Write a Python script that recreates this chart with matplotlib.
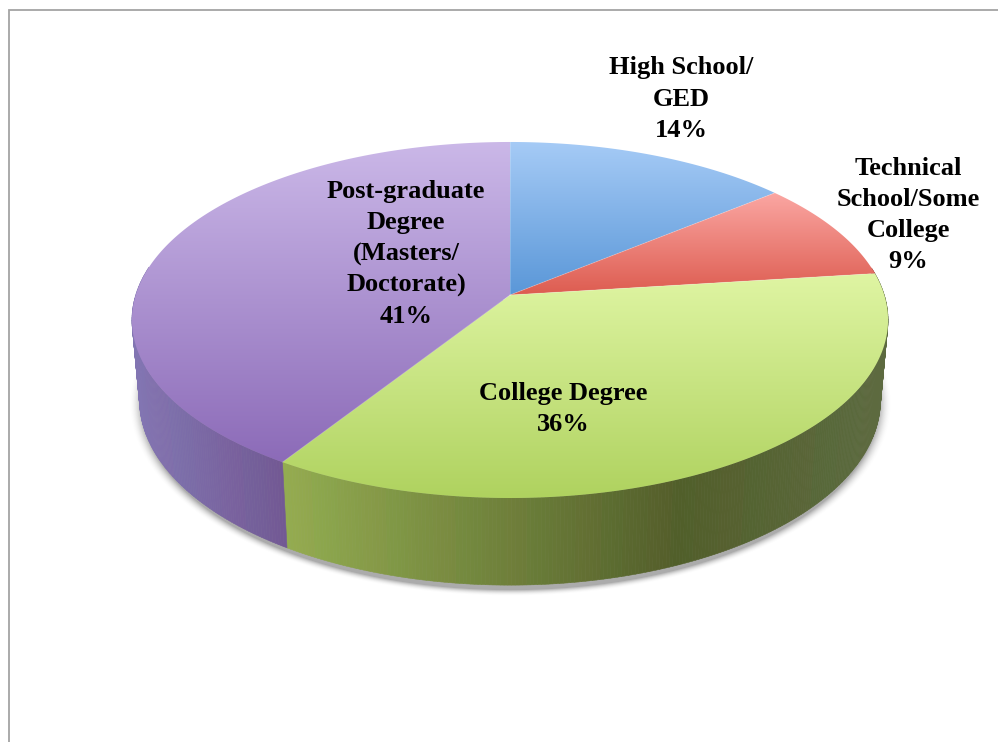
import numpy as np
import matplotlib
matplotlib.use("Agg")
import matplotlib.pyplot as plt
from matplotlib.collections import PolyCollection
from matplotlib.patches import Polygon
from matplotlib.colors import LinearSegmentedColormap

# chart data
categories = ["High School/\nGED", "Technical\nSchool/Some\nCollege", "College Degree",
              "Post-graduate\nDegree\n(Masters/\nDoctorate)"]
values = [14, 9, 36, 41]

# top face gradients (far colour, near colour) and wall gradients
top_colors = [("#a6cbf6", "#5a97d8"), ("#fba7a3", "#dd5c50"), ("#dff5a3", "#afd25f"), ("#cbb8e8", "#8c6bb8")]
wall_colors = [("#3f6f9f", "#3f6f9f"), ("#9a3f38", "#9a3f38"), ("#93ac50", "#525e2a"), ("#8275b2", "#725893")]
label_pos = [(681, 99), (908, 215), (563, 409), (406, 254)]

# pie geometry in pixels
CX, CY = 510, 295
A, B, K = 374.3, 174.5, 0.1404
DEPTH = 79


def project(theta, sx=1.0, sy=1.0, dy=0.0):
    """Clockwise angle from 12 o'clock on the unit disc -> perspective pixel position."""
    u, v = np.sin(theta), np.cos(theta)
    w = 1 + K * v
    return CX + sx * A * u / w, CY - sy * B * v / w + dy


def bottom_rim(theta):
    return project(theta, sx=0.98, sy=1.04, dy=DEPTH)


fig = plt.figure(figsize=(9.98, 7.42), dpi=100)
ax = fig.add_axes([0, 0, 1, 1])
ax.set_xlim(0, 998)
ax.set_ylim(742, 0)
ax.axis("off")

# page frame
ax.plot([9.5, 9.5, 998], [742, 9.5, 9.5], color="#a4a4a4", lw=1.3, solid_joinstyle="miter", zorder=1)

# soft shadow under the pie
gx, gy = np.meshgrid(np.arange(100, 920), np.arange(300, 620))
r = np.sqrt(((gx - 510) / 374.0) ** 2 + ((gy - 403) / 189.0) ** 2)
shadow = np.zeros(r.shape + (4,))
shadow[..., :3] = 0.4
shadow[..., 3] = np.clip((1.02 - r) / 0.035, 0, 1) ** 2 * 0.55
ax.imshow(shadow, extent=[100, 920, 620, 300], zorder=2, aspect="auto", interpolation="bilinear")
ax.set_xlim(0, 998)
ax.set_ylim(742, 0)

edges = np.concatenate([[0], np.cumsum(values)]) / sum(values) * 2 * np.pi
band_shift = np.array([[0.006, -0.003, 0.0], [-0.005, 0.004, 0.0], [0.0, 0.0, 0.0]])

# side wall, drawn as narrow vertical facets
polys, cols = [], []
for i in range(len(values)):
    c0 = np.array(matplotlib.colors.to_rgb(wall_colors[i][0]))
    c1 = np.array(matplotlib.colors.to_rgb(wall_colors[i][1]))
    th = np.arange(edges[i], edges[i + 1] + 1e-6, np.radians(0.5))
    th = np.append(th, edges[i + 1])
    for a, b in zip(th[:-1], th[1:]):
        mid = (a + b) / 2
        if np.cos(mid) > 0.16:
            continue
        xt0, yt0 = project(a)
        xt1, yt1 = project(b)
        xb0, yb0 = bottom_rim(a)
        xb1, yb1 = bottom_rim(b)
        polys.append([(xt0, yt0), (xt1, yt1), (xb1, yb1), (xb0, yb0)])
        xm = project(mid)[0]
        if i == 2:
            # green wall darkens towards x=680, then lifts slightly at the right end
            f = np.clip((xm - 285) / 395, 0, 1)
            col = c0 + (c1 - c0) * f
            if xm > 680:
                col = c1 + (np.array([0.36, 0.42, 0.25]) - c1) * (xm - 680) / 205
        else:
            f = np.clip((xm - 135) / 150, 0, 1)
            col = c0 + (c1 - c0) * f
        # slight facet banding
        col = col + band_shift[int(xm // 24) % 3]
        cols.append(np.clip(col, 0, 1))
ax.add_collection(PolyCollection(polys, facecolors=cols, edgecolors=cols, linewidths=0.4, zorder=3))

# top face wedges with vertical gradient
for i in range(len(values)):
    th = np.linspace(edges[i], edges[i + 1], 200)
    xs, ys = project(th)
    verts = np.column_stack([np.append(xs, CX), np.append(ys, CY)])
    ymin, ymax = verts[:, 1].min(), verts[:, 1].max()
    xmin, xmax = verts[:, 0].min(), verts[:, 0].max()
    cmap = LinearSegmentedColormap.from_list("top%d" % i, top_colors[i])
    patch = Polygon(verts, closed=True, facecolor="none", edgecolor="none", transform=ax.transData)
    ax.add_patch(patch)
    grad = np.linspace(0, 1, 256).reshape(-1, 1)
    im = ax.imshow(grad, cmap=cmap, extent=[xmin, xmax, ymax, ymin], aspect="auto", zorder=4)
    im.set_clip_path(patch)
    ax.plot(verts[[-1, 0], 0], verts[[-1, 0], 1], color="white", alpha=0.2, lw=0.7, zorder=5)
ax.set_xlim(0, 998)
ax.set_ylim(742, 0)

# labels
for name, val, (lx, ly) in zip(categories, values, label_pos):
    ax.text(lx, ly, "%s\n%d%%" % (name, val), ha="center", va="center", ma="center",
            family="Liberation Serif", weight="bold", fontsize=19, linespacing=1.46,
            color="black", zorder=6)

fig.savefig("out.png", dpi=100)
